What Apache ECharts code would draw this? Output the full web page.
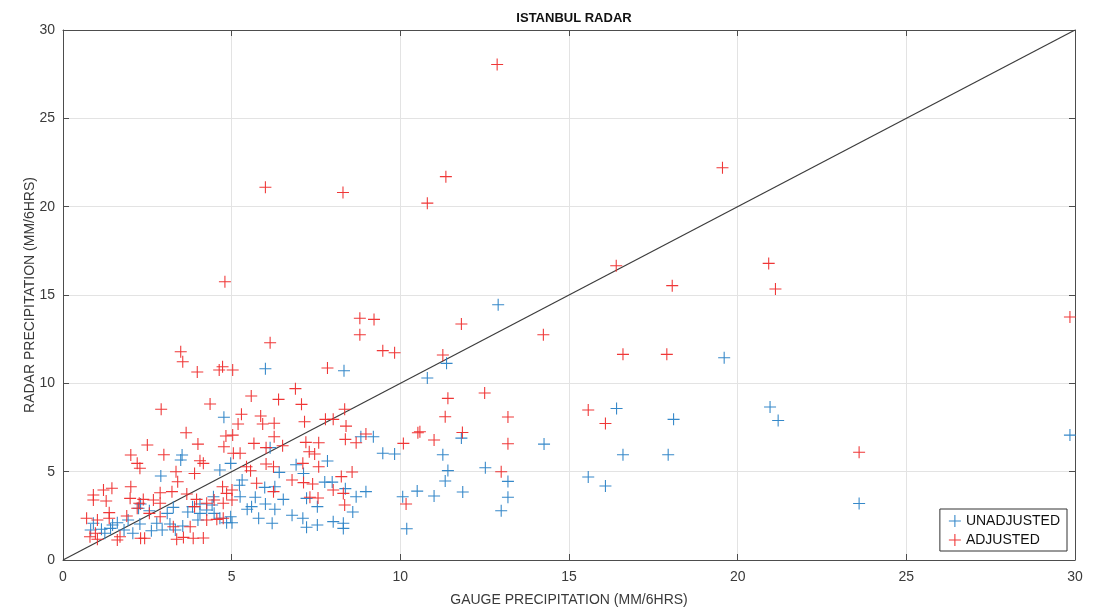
<!DOCTYPE html>
<html>
<head>
<meta charset="utf-8">
<script src="https://cdn.jsdelivr.net/npm/echarts@6/dist/echarts.min.js"></script>
<style>
html,body{margin:0;padding:0;background:#fff;}
#chart{width:1102px;height:609px;}
</style>
</head>
<body>
<div id="chart"></div>
<script>
// ---- data ----
const titleText = 'ISTANBUL RADAR';
const xAxisName = 'GAUGE PRECIPITATION (MM/6HRS)';
const yAxisName = 'RADAR PRECIPITATION (MM/6HRS)';
const seriesNames = ['UNADJUSTED', 'ADJUSTED'];
const tickValues = [0, 5, 10, 15, 20, 25, 30];
const oneToOne = [[0, 0], [30, 30]];

const unadjusted = [
[12.9,14.45],[19.6,11.45],[20.96,8.66],[21.2,7.9],[18.1,7.96],[17.94,5.96],[16.6,5.96],[16.41,8.58],[15.57,4.7],[16.08,4.19],[23.6,3.2],[29.85,7.07],[14.26,6.56],
[11.37,11.13],[10.8,10.3],[11.81,6.9],[11.26,5.96],[11.41,5.06],[11.33,4.47],[11.0,3.62],[11.85,3.85],[12.52,5.22],[13.19,4.45],[13.19,3.55],[12.99,2.79],
[6.0,10.83],[8.33,10.71],[8.83,6.98],[9.2,6.98],[6.14,6.36],[9.48,6.04],[9.83,6.0],[7.84,5.6],[6.91,5.39],[7.13,4.9],[5.31,4.53],[6.41,4.96],[7.76,4.41],[7.98,4.41],[8.37,4.04],[8.98,3.87],[5.98,4.11],[6.28,4.15],[5.23,4.23],[6.53,3.43],[5.7,3.55],[5.46,2.87],[6.0,3.17],[6.28,2.87],[7.22,3.49],[7.54,3.02],[6.79,2.53],[7.11,2.36],[5.8,2.36],[6.2,2.08],[7.22,1.85],[7.54,1.98],[8.01,2.17],[8.31,2.08],[8.31,1.79],[8.59,2.72],[8.69,3.58],[10.07,3.58],[10.5,3.9],[10.19,1.77],[5.01,2.11],[4.97,5.47],
[4.77,8.08],[2.9,4.75],[3.53,5.94],[3.49,5.66],[0.82,1.7],[1.14,1.74],[1.41,1.79],[1.61,2.11],[1.93,2.26],[2.28,2.04],[2.62,1.66],[2.78,2.08],[2.94,1.7],[3.17,2.04],[3.33,1.7],[3.55,1.92],[4.0,2.26],[4.06,2.64],[4.26,2.83],[4.48,2.64],[4.65,2.36],[4.85,2.11],[4.06,3.17],[3.84,3.02],[4.42,3.11],[4.46,3.58],[4.97,2.45],[2.3,3.17],[2.56,2.79],[3.09,2.64],[2.24,2.93],[1.47,1.98],[0.9,2.08],[1.24,1.51],[1.81,1.7],[2.07,1.51],[3.7,2.72],[4.65,5.09],[5.25,3.58],[5.59,3.02],[3.27,2.98]
];

const adjusted = [
[12.87,28.05],[6.0,21.1],[8.3,20.8],[10.8,20.2],[11.35,21.7],[19.55,22.2],[16.4,16.66],[20.92,16.79],[21.12,15.34],[18.06,15.53],[29.85,13.75],[4.8,15.75],[17.9,11.64],[16.6,11.64],[14.24,12.75],[23.6,6.1],[15.57,8.49],[16.08,7.73],
[11.81,13.36],[11.26,11.6],[11.41,9.15],[12.5,9.45],[11.33,8.11],[13.19,8.09],[11.84,7.22],[11.0,6.79],[13.19,6.58],[10.58,7.26],[12.99,5.0],
[8.8,13.68],[9.22,13.62],[8.8,12.75],[6.14,12.3],[9.48,11.85],[9.83,11.73],[5.03,10.75],[7.84,10.87],[6.89,9.7],[5.58,9.28],[6.39,9.09],[7.07,8.81],[8.35,8.53],[5.29,8.25],[5.86,8.15],[5.19,7.7],[5.92,7.7],[6.26,7.74],[7.16,7.83],[7.78,7.96],[8.01,7.96],[8.39,7.58],[5.03,7.07],[6.26,6.98],[8.37,6.83],[8.98,7.13],[5.66,6.6],[6.51,6.47],[7.2,6.66],[7.58,6.64],[8.69,6.64],[6.02,6.36],[5.25,6.04],[7.3,6.13],[7.46,6.0],[10.09,6.6],[10.52,7.2],[5.44,5.28],[6.02,5.43],[6.24,5.28],[7.11,5.47],[7.58,5.28],[5.56,5.05],[6.79,4.53],[7.13,4.38],[7.4,4.3],[8.25,4.72],[8.57,4.98],[5.01,3.96],[5.74,4.34],[6.24,3.87],[8.01,3.96],[8.31,3.77],[5.01,3.4],[7.32,3.55],[7.56,3.51],[8.35,3.11],[10.17,3.17],
[3.49,11.79],[3.55,11.22],[3.98,10.64],[4.63,10.75],[4.73,10.94],[2.91,8.53],[4.36,8.83],[3.65,7.2],[4.0,6.56],[2.5,6.51],[2.99,5.96],[2.01,5.94],[2.2,5.47],[2.28,5.19],[3.35,5.0],[4.06,5.62],[4.16,5.47],[3.9,4.9],[4.83,7.02],[4.77,6.41],[5.05,6.04],[3.4,4.43],[0.9,3.68],[1.2,3.96],[1.45,4.06],[0.9,3.4],[1.28,3.34],[2.01,4.15],[1.99,3.49],[2.38,3.43],[2.26,3.21],[2.68,3.4],[2.88,3.81],[3.23,3.87],[2.88,3.21],[3.67,3.74],[3.96,3.43],[3.9,3.02],[4.26,3.21],[4.48,3.4],[4.73,4.15],[4.85,3.77],[4.75,3.21],[0.7,2.36],[1.02,2.26],[1.37,2.36],[1.37,2.68],[1.89,2.49],[2.2,2.93],[2.56,2.64],[2.88,2.45],[0.8,1.32],[1.02,1.17],[0.96,1.51],[1.69,1.32],[1.61,1.13],[2.3,1.23],[2.42,1.23],[3.37,1.17],[3.57,1.28],[3.86,1.23],[4.16,1.25],[3.77,1.88],[3.27,1.88],[4.56,2.3],[4.75,2.36],[4.26,2.26]
];

// ---- styling ----
const BLUE = '#2a82c6';
const RED = '#ee2c2c';
const AXIS = '#4d4d4d';
const TEXT = '#3a3a3a';
const FONT = '"Liberation Sans", Arial, sans-serif';
const PLUS = 'path://M-0.9,-10 L0.9,-10 L0.9,-0.9 L10,-0.9 L10,0.9 L0.9,0.9 L0.9,10 L-0.9,10 L-0.9,0.9 L-10,0.9 L-10,-0.9 L-0.9,-0.9 Z';

const axisCommon = {
  type: 'value', min: 0, max: 30, interval: 5,
  axisLine: { show: true, onZero: false, lineStyle: { color: AXIS, width: 1 } },
  axisTick: { show: true, inside: true, length: 6, lineStyle: { color: AXIS } },
  splitLine: { show: true, lineStyle: { color: '#e3e3e3', width: 1 } },
  axisLabel: { color: TEXT, fontSize: 14, fontFamily: FONT,
               formatter: v => tickValues.includes(v) ? String(v) : '' }
};

const chart = echarts.init(document.getElementById('chart'), null, { renderer: 'canvas' });
chart.setOption({
  backgroundColor: '#fff',
  animation: false,
  title: {
    text: titleText, left: 569, top: 7, textAlign: 'center',
    textStyle: { fontSize: 13, fontWeight: 'bold', color: '#111', fontFamily: FONT }
  },
  grid: { left: 63, right: 27, top: 30, bottom: 49, containLabel: false, outerBoundsMode: 'none' },
  xAxis: [
    Object.assign({}, axisCommon, {
      position: 'bottom', name: xAxisName, nameLocation: 'middle', nameGap: 33,
      nameMoveOverlap: false,
      nameTextStyle: { color: TEXT, fontSize: 14, fontFamily: FONT },
      axisLabel: Object.assign({}, axisCommon.axisLabel, { margin: 10 })
    }),
    Object.assign({}, axisCommon, {
      position: 'top', axisLabel: { show: false }, splitLine: { show: false }
    })
  ],
  yAxis: [
    Object.assign({}, axisCommon, {
      position: 'left', name: yAxisName, nameLocation: 'middle', nameGap: 26,
      nameMoveOverlap: false,
      nameTextStyle: { color: TEXT, fontSize: 14, fontFamily: FONT },
      axisLabel: Object.assign({}, axisCommon.axisLabel, { margin: 8 })
    }),
    Object.assign({}, axisCommon, {
      position: 'right', axisLabel: { show: false }, splitLine: { show: false }
    })
  ],
  legend: {
    orient: 'vertical', right: 35, bottom: 58,
    data: seriesNames.map((n, i) => ({ name: n, icon: PLUS })),
    itemWidth: 12, itemHeight: 12, itemGap: 5,
    padding: [5, 7, 4, 9],
    backgroundColor: '#fff', borderColor: '#333', borderWidth: 1, borderRadius: 0,
    textStyle: { color: '#111', fontSize: 14, fontFamily: FONT }
  },
  series: [
    {
      name: 'oneToOne', type: 'line', data: oneToOne, xAxisIndex: 0, yAxisIndex: 0,
      showSymbol: false, symbol: 'none', silent: true, z: 1,
      lineStyle: { color: '#3c3c3c', width: 1.2 }
    },
    {
      name: seriesNames[0], type: 'scatter', data: unadjusted,
      symbol: PLUS, symbolSize: 12, itemStyle: { color: BLUE, opacity: 0.95 }, z: 2
    },
    {
      name: seriesNames[1], type: 'scatter', data: adjusted,
      symbol: PLUS, symbolSize: 12, itemStyle: { color: RED, opacity: 0.95 }, z: 3
    }
  ]
});
</script>
</body>
</html>
